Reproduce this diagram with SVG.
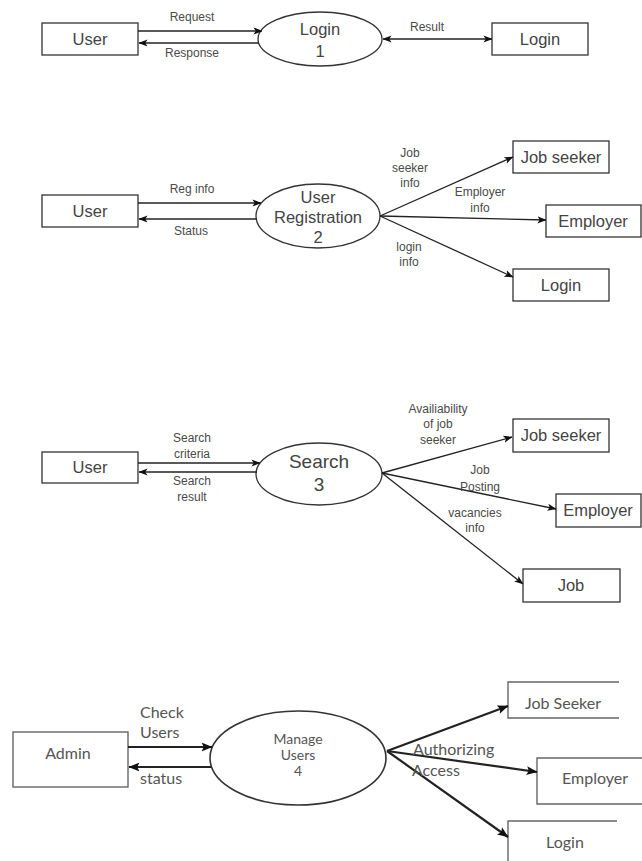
<svg xmlns="http://www.w3.org/2000/svg" width="642" height="861" viewBox="0 0 642 861">
  <style>
    .box { fill: #fff; stroke: #333; stroke-width: 1.3; }
    .proc { fill: #fff; stroke: #333; stroke-width: 1.3; }
    .flow { fill: none; stroke: #222; stroke-width: 1.3; marker-end: url(#ah); }
    .both { marker-start: url(#ah); }
    .nt { font-family: "Liberation Sans", Arial, sans-serif; font-size: 16.5px; fill: #444; text-anchor: middle; }
    .lb { font-family: "Liberation Sans", Arial, sans-serif; font-size: 12px; fill: #4a4a4a; text-anchor: middle; }
    .box4 { fill: #fff; stroke: #666; stroke-width: 1.4; }
    .proc4 { fill: #fff; stroke: #333; stroke-width: 1.6; }
    .flow4 { fill: none; stroke: #222; stroke-width: 2.2; marker-end: url(#ah4); }
    .t4 { font-family: Lato, "Open Sans", sans-serif; font-size: 16px; fill: #555; }
    .mid { text-anchor: middle; }
  </style>
  <defs>
    <marker id="ah" viewBox="0 0 10 10" refX="9.5" refY="5" markerWidth="9" markerHeight="9" markerUnits="userSpaceOnUse" orient="auto-start-reverse">
      <path d="M0,1 L10,5 L0,9 L2.5,5 z" fill="#111"/>
    </marker>
    <marker id="ah4" viewBox="0 0 10 10" refX="9.5" refY="5" markerWidth="11" markerHeight="11" markerUnits="userSpaceOnUse" orient="auto">
      <path d="M0,1 L10,5 L0,9 L2,5 z" fill="#111"/>
    </marker>
  </defs>
  <rect width="642" height="861" fill="#fff"/>

  <!-- Process 1: Login -->
  <g id="user1"><rect class="box" x="42" y="23" width="96" height="32"/><text class="nt" x="90" y="45">User</text></g>
  <g id="login-proc"><ellipse class="proc" cx="320" cy="39" rx="62" ry="27"/><text class="nt" x="320" y="35">Login</text><text class="nt" x="320" y="57">1</text></g>
  <g id="login1"><rect class="box" x="492" y="23" width="96" height="32"/><text class="nt" x="540" y="45">Login</text></g>

  <!-- Process 2: User Registration -->
  <g id="user2"><rect class="box" x="42" y="195" width="96" height="32"/><text class="nt" x="90" y="217">User</text></g>
  <g id="reg-proc"><ellipse class="proc" cx="318" cy="216" rx="62" ry="32"/><text class="nt" x="318" y="203">User</text><text class="nt" x="318" y="223">Registration</text><text class="nt" x="318" y="243">2</text></g>
  <g id="jobseeker2"><rect class="box" x="513" y="141" width="96" height="32"/><text class="nt" x="561" y="163">Job seeker</text></g>
  <g id="employer2"><rect class="box" x="546" y="205" width="95" height="32"/><text class="nt" x="593" y="227">Employer</text></g>
  <g id="login2"><rect class="box" x="513" y="269" width="96" height="32"/><text class="nt" x="561" y="291">Login</text></g>

  <!-- Process 3: Search -->
  <g id="user3"><rect class="box" x="42" y="452" width="96" height="31"/><text class="nt" x="90" y="473">User</text></g>
  <g id="search-proc"><ellipse class="proc" cx="319" cy="474" rx="63" ry="31"/><text class="nt" x="319" y="468" style="font-size:19px">Search</text><text class="nt" x="319" y="491" style="font-size:19px">3</text></g>
  <g id="jobseeker3"><rect class="box" x="513" y="419" width="96" height="33"/><text class="nt" x="561" y="441">Job seeker</text></g>
  <g id="employer3"><rect class="box" x="556" y="494" width="85" height="33"/><text class="nt" x="598" y="516">Employer</text></g>
  <g id="job3"><rect class="box" x="523" y="569" width="97" height="33"/><text class="nt" x="571" y="591">Job</text></g>

  <!-- Process 4: Manage Users -->
  <g id="admin4"><rect class="box4" x="13" y="732" width="115" height="55"/><text class="t4 mid" x="68" y="759">Admin</text></g>
  <g id="manage-proc"><ellipse class="proc4" cx="298" cy="758" rx="88" ry="47"/><text class="t4 mid" x="298" y="744" style="font-size:14px">Manage</text><text class="t4 mid" x="298" y="760" style="font-size:14px">Users</text><text class="t4 mid" x="298" y="776" style="font-size:14px">4</text></g>
  <g id="jobseeker4"><path class="box4" d="M619,682 H508 V718 H619" fill="none"/><text class="t4 mid" x="563" y="709">Job Seeker</text></g>
  <g id="employer4"><path class="box4" d="M642,758 H537 V804 H642" fill="none"/><text class="t4 mid" x="595" y="784">Employer</text></g>
  <g id="login4"><path class="box4" d="M617,821 H508 V861" fill="none"/><text class="t4 mid" x="565" y="848">Login</text></g>

  <g id="connectors">
    <!-- 1 -->
    <line class="flow" x1="138" y1="31" x2="262" y2="31"/>
    <line class="flow" x1="259" y1="43" x2="139" y2="43"/>
    <line class="flow both" x1="383" y1="39" x2="492" y2="39"/>
    <text class="lb" x="192" y="21">Request</text>
    <text class="lb" x="192" y="57">Response</text>
    <text class="lb" x="427" y="31">Result</text>
    <!-- 2 -->
    <line class="flow" x1="138" y1="203" x2="261" y2="203"/>
    <line class="flow" x1="257" y1="219" x2="139" y2="219"/>
    <line class="flow" x1="380" y1="216" x2="513" y2="157"/>
    <line class="flow" x1="380" y1="216" x2="546" y2="220"/>
    <line class="flow" x1="380" y1="216" x2="513" y2="277"/>
    <text class="lb" x="192" y="193">Reg info</text>
    <text class="lb" x="191" y="235">Status</text>
    <text class="lb" x="410" y="157">Job</text>
    <text class="lb" x="410" y="172">seeker</text>
    <text class="lb" x="410" y="187">info</text>
    <text class="lb" x="480" y="196">Employer</text>
    <text class="lb" x="480" y="212">info</text>
    <text class="lb" x="409" y="251">login</text>
    <text class="lb" x="409" y="266">info</text>
    <!-- 3 -->
    <line class="flow" x1="138" y1="463" x2="260" y2="463"/>
    <line class="flow" x1="257" y1="472" x2="139" y2="472"/>
    <line class="flow" x1="382" y1="473" x2="512" y2="437"/>
    <line class="flow" x1="382" y1="473" x2="556" y2="509"/>
    <line class="flow" x1="382" y1="473" x2="523" y2="584"/>
    <text class="lb" x="192" y="442">Search</text>
    <text class="lb" x="192" y="458">criteria</text>
    <text class="lb" x="192" y="485">Search</text>
    <text class="lb" x="192" y="501">result</text>
    <text class="lb" x="438" y="413">Availiability</text>
    <text class="lb" x="438" y="428">of job</text>
    <text class="lb" x="438" y="444">seeker</text>
    <text class="lb" x="480" y="474">Job</text>
    <text class="lb" x="480" y="491">Posting</text>
    <text class="lb" x="475" y="517">vacancies</text>
    <text class="lb" x="475" y="532">info</text>
    <!-- 4 -->
    <line class="flow4" x1="128" y1="747" x2="212" y2="747"/>
    <line class="flow4" x1="211" y1="767" x2="129" y2="767"/>
    <line class="flow4" x1="387" y1="751" x2="508" y2="706"/>
    <line class="flow4" x1="387" y1="751" x2="537" y2="772"/>
    <line class="flow4" x1="387" y1="751" x2="508" y2="837"/>
    <text class="t4" x="140" y="718">Check</text>
    <text class="t4" x="140" y="738">Users</text>
    <text class="t4" x="140" y="784">status</text>
    <text class="t4" x="413" y="755">Authorizing</text>
    <text class="t4" x="412" y="776">Access</text>
  </g>
</svg>
